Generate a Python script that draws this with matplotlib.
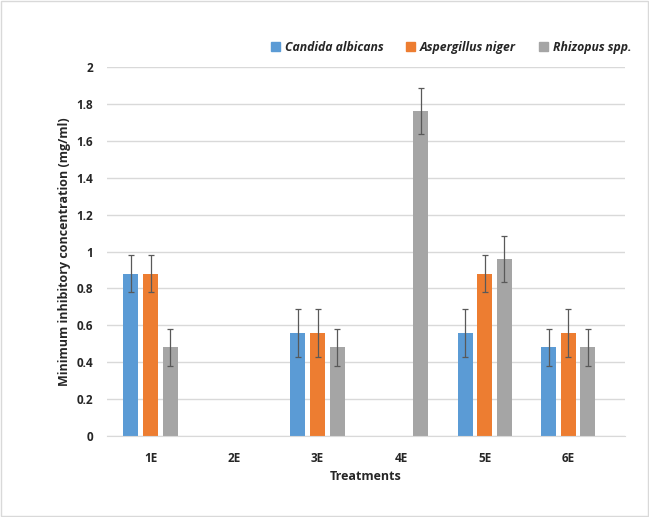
import numpy as np
import matplotlib.pyplot as plt
from matplotlib.patches import Rectangle

treatments = ['1E', '2E', '3E', '4E', '5E', '6E']
species = ['Candida albicans', 'Aspergillus niger', 'Rhizopus spp.']
colors = ['#5b9bd5', '#ed7d31', '#a5a5a5']

candida = [0.88, 0, 0.56, 0, 0.56, 0.48]
aspergillus = [0.88, 0, 0.56, 0, 0.88, 0.56]
rhizopus = [0.48, 0, 0.48, 1.76, 0.96, 0.48]

candida_err = [0.10, 0, 0.13, 0, 0.13, 0.10]
aspergillus_err = [0.10, 0, 0.13, 0, 0.10, 0.13]
rhizopus_err = [0.10, 0, 0.10, 0.125, 0.125, 0.10]

plt.rcParams['font.family'] = ['Open Sans', 'DejaVu Sans']

fig = plt.figure(figsize=(6.49, 5.17), dpi=100)
ax = fig.add_axes([0.165, 0.157, 0.798, 0.713])

x = np.arange(len(treatments))
w = 0.18
step = 0.235
series = [(candida, candida_err), (aspergillus, aspergillus_err), (rhizopus, rhizopus_err)]
for i, (vals, errs) in enumerate(series):
    pos = x + (i - 1) * step
    ax.bar(pos, vals, w, color=colors[i], label=species[i], zorder=2)
    for p, v, e in zip(pos, vals, errs):
        if v > 0:
            ax.errorbar(p, v, yerr=e, color='#595959', elinewidth=0.9,
                        capsize=2.5, capthick=0.9, zorder=3)

ax.set_ylim(0, 2)
ax.set_xlim(-0.52, 5.68)
ax.set_yticks(np.arange(0, 2.01, 0.2))
ax.set_yticklabels(['0', '0.2', '0.4', '0.6', '0.8', '1', '1.2', '1.4', '1.6', '1.8', '2'])
ax.set_xticks(x)
ax.set_xticklabels(treatments)
for lab in ax.get_xticklabels() + ax.get_yticklabels():
    lab.set_fontweight('bold')
    lab.set_fontsize(8.5)
    lab.set_color('#262626')
ax.tick_params(axis='x', length=0, pad=12)
ax.tick_params(axis='y', length=0, pad=10)
ax.grid(axis='y', color='#d9d9d9', linewidth=1, zorder=0)
for s in ['top', 'right', 'left']:
    ax.spines[s].set_visible(False)
ax.spines['bottom'].set_color('#d9d9d9')

ax.set_xlabel('Treatments', fontsize=9, fontweight='bold', color='#262626', labelpad=3)
ax.set_ylabel('Minimum inhibitory concentration (mg/ml)', fontsize=9,
              fontweight='bold', color='#262626', labelpad=4)

handles = [Rectangle((0, 0), 1, 1, color=c) for c in colors]
leg = fig.legend(handles, species, loc='center', bbox_to_anchor=(0.695, 0.909),
                 ncol=3, frameon=False, handlelength=0.7, handleheight=0.7,
                 handletextpad=0.4, columnspacing=1.9,
                 prop={'weight': 'bold', 'style': 'italic', 'size': 8.8})
for t in leg.get_texts():
    t.set_color('#262626')

fig.patches.append(Rectangle((0.002, 0.002), 0.996, 0.996, transform=fig.transFigure,
                             fill=False, edgecolor='#d9d9d9', linewidth=1))

fig.savefig('out.png', dpi=100)
